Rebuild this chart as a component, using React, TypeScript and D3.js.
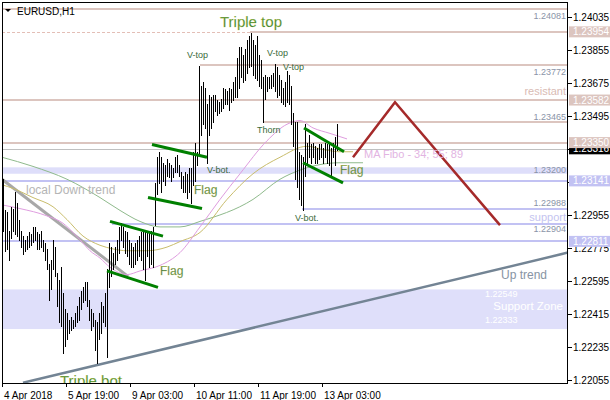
import React from 'react';
import * as d3 from 'd3';

// ---- OHLC bars (H1), highs and lows ----
const highs = [
  1.2315, 1.2298, 1.2297, 1.2287, 1.2300, 1.2299, 1.2308, 1.2302, 1.2293, 1.2287,
  1.2284, 1.2282, 1.2284, 1.2286, 1.2285, 1.2289, 1.2289, 1.2286, 1.2285, 1.2287,
  1.2282, 1.2280, 1.2277, 1.2269, 1.2271, 1.2282, 1.2278, 1.2264, 1.2260, 1.2267,
  1.2253, 1.2244, 1.2242, 1.2238, 1.2240, 1.2238, 1.2242, 1.2246, 1.2251, 1.2254,
  1.2256, 1.2259, 1.2259, 1.2249, 1.2244, 1.2242, 1.2238, 1.2237, 1.2242, 1.2248,
  1.2246, 1.2253, 1.2266, 1.2280, 1.2278, 1.2275, 1.2278, 1.2282, 1.2289, 1.2291,
  1.2289, 1.2287, 1.2286, 1.2282, 1.2280, 1.2278, 1.2280, 1.2282, 1.2284, 1.2286,
  1.2287, 1.2286, 1.2287, 1.2286, 1.2287, 1.2289, 1.2313, 1.2327, 1.2330, 1.2327,
  1.2324, 1.2323, 1.2326, 1.2324, 1.2323, 1.2321, 1.2327, 1.2328, 1.2323, 1.2319,
  1.2317, 1.2319, 1.2318, 1.2321, 1.2321, 1.2330, 1.2335, 1.2330, 1.2377, 1.2366,
  1.2368, 1.2365, 1.2356, 1.2361, 1.2360, 1.2361, 1.2361, 1.2358, 1.2357, 1.2359,
  1.2365, 1.2364, 1.2363, 1.2365, 1.2364, 1.2368, 1.2371, 1.2381, 1.2387, 1.2387,
  1.2383, 1.2386, 1.2391, 1.2393, 1.2395, 1.2391, 1.2388, 1.2393, 1.2383, 1.2380,
  1.2371, 1.2372, 1.2371, 1.2371, 1.2372, 1.2373, 1.2378, 1.2376, 1.2372, 1.2369,
  1.2365, 1.2368, 1.2374, 1.2372, 1.2366, 1.2351, 1.2346, 1.2346, 1.2330, 1.2328,
  1.2327, 1.2345, 1.2335, 1.2339, 1.2334, 1.2335, 1.2333, 1.2332, 1.2334, 1.2334,
  1.2332, 1.2335, 1.2334, 1.2334, 1.2332, 1.2335, 1.2338, 1.2345,
];
const lows = [
  1.2287, 1.2276, 1.2277, 1.2271, 1.2283, 1.2287, 1.2285, 1.2284, 1.2282, 1.2278,
  1.2274, 1.2276, 1.2277, 1.2278, 1.2279, 1.2281, 1.2282, 1.2277, 1.2277, 1.2278,
  1.2276, 1.2271, 1.2266, 1.2249, 1.2255, 1.2266, 1.2262, 1.2246, 1.2237, 1.2235,
  1.2220, 1.2224, 1.2228, 1.2231, 1.2233, 1.2234, 1.2235, 1.2237, 1.2238, 1.2244,
  1.2248, 1.2249, 1.2246, 1.2238, 1.2233, 1.2235, 1.2222, 1.2215, 1.2228, 1.2231,
  1.2237, 1.2235, 1.2218, 1.2256, 1.2262, 1.2266, 1.2269, 1.2271, 1.2275, 1.2282,
  1.2278, 1.2275, 1.2273, 1.2269, 1.2267, 1.2267, 1.2269, 1.2271, 1.2273, 1.2271,
  1.2266, 1.2260, 1.2273, 1.2267, 1.2269, 1.2267, 1.2290, 1.2307, 1.2313, 1.2308,
  1.2314, 1.2312, 1.2317, 1.2316, 1.2314, 1.2316, 1.2319, 1.2319, 1.2317, 1.2310,
  1.2308, 1.2308, 1.2305, 1.2308, 1.2302, 1.2312, 1.2314, 1.2323, 1.2329, 1.2339,
  1.2345, 1.2343, 1.2324, 1.2339, 1.2343, 1.2346, 1.2352, 1.2350, 1.2351, 1.2352,
  1.2354, 1.2356, 1.2356, 1.2353, 1.2357, 1.2358, 1.2360, 1.2360, 1.2365, 1.2371,
  1.2368, 1.2369, 1.2373, 1.2376, 1.2377, 1.2372, 1.2370, 1.2369, 1.2366, 1.2365,
  1.2346, 1.2359, 1.2363, 1.2365, 1.2365, 1.2366, 1.2363, 1.2360, 1.2361, 1.2357,
  1.2356, 1.2355, 1.2357, 1.2356, 1.2345, 1.2333, 1.2315, 1.2311, 1.2304, 1.2301,
  1.2298, 1.2317, 1.2323, 1.2327, 1.2324, 1.2327, 1.2324, 1.2324, 1.2326, 1.2327,
  1.2324, 1.2327, 1.2324, 1.2323, 1.2317, 1.2327, 1.2323, 1.2331,
];

// ---- axes ----
const priceTicks = [1.24035, 1.23855, 1.23675, 1.23495, 1.23315, 1.23135, 1.22955, 1.22775, 1.22595, 1.22415, 1.22235, 1.22055];
const timeTickIdx = [0, 32, 64, 96, 128, 160];
const timeTickLabels = ['4 Apr 2018', '5 Apr 19:00', '9 Apr 03:00', '10 Apr 11:00', '11 Apr 19:00', '13 Apr 03:00'];

// ---- moving averages (bar index, price) ----
const ma34: [number, number][] = [
  [-0.5, 1.2301], [8.5, 1.2299], [22, 1.2295], [30, 1.2291], [35, 1.2286], [38.5, 1.2282], [43.5, 1.2276],
  [48.5, 1.2272], [53.5, 1.2267], [62, 1.2263], [68.5, 1.2265], [78.5, 1.2268], [88.5, 1.2275], [98.5, 1.2289],
  [108.5, 1.2304], [118.5, 1.2318], [132, 1.2336], [142, 1.2345], [148.5, 1.2347], [155, 1.2343], [163.5, 1.2340], [172, 1.2337],
];
const ma55: [number, number][] = [
  [-0.5, 1.2312], [5, 1.2310], [15, 1.2305], [25, 1.2300], [32, 1.2293], [40, 1.2284], [48.5, 1.2279], [55, 1.2277],
  [62, 1.2276], [72, 1.2276], [82, 1.2278], [88.5, 1.2281], [98.5, 1.2286], [112, 1.2304], [125, 1.2318],
  [138.5, 1.2327], [152, 1.2333], [161, 1.2331], [168.5, 1.2330], [175, 1.2330],
];
const ma89: [number, number][] = [
  [-0.5, 1.2327], [15, 1.2322], [32, 1.2315], [48.5, 1.2305], [58.5, 1.2298], [68.5, 1.2292], [78.5, 1.2289],
  [88.5, 1.2289], [98.5, 1.2292], [125, 1.2304], [138.5, 1.2315], [148.5, 1.2320], [158.5, 1.2323], [168.5, 1.2324], [180, 1.2324],
];

// ---- drawn objects (bar index, price) ----
const upTrend: [number, number][] = [[10, 1.2204], [282.5, 1.2275]];
const downTrend: [number, number][] = [[-0.5, 1.2315], [62.5, 1.2262]];
const flagLines: [number, number][][] = [
  [[53.5, 1.2292], [80, 1.2284]], [[52, 1.2265], [77.5, 1.2256]],
  [[74.5, 1.2334], [102, 1.2327]], [[72.5, 1.2305], [99.5, 1.2299]],
  [[150.5, 1.2343], [170.5, 1.2330]], [[150, 1.2324], [170, 1.2313]],
];
const zigzag: [number, number][] = [[175, 1.2327], [196, 1.2357], [248.5, 1.2290]];

const resistLevels = [1.24081, 1.23954, 1.23772, 1.23582, 1.23465, 1.23350];
const resistStart = [null, 123.5, 98.5, null, 130, null];
const supportLevels = [1.23141, 1.22988, 1.22904, 1.22811];
const supportStart = [null, 149.5, 54.5, null];
const currentPrice = 1.23316;
const thinBand = [1.23215, 1.23180];
const supportZone = [1.22549, 1.22333];

const patternLabels = ['Triple top', 'Triple bot', 'V-top', 'V-top', 'V-top', 'V-bot.', 'Thorn', 'V-bot.', 'Flag', 'Flag', 'Flag'];
const patternIdx = [108.5, 28.5, 92, 132, 140, 102, 127, 146, 78.5, 95.5, 168.5];
const patternPrice = [1.2401, 1.2205, 1.2383, 1.2384, 1.2376, 1.2320, 1.2342, 1.2294, 1.2265, 1.2309, 1.2320];

const BROWN = '#dcc5bf';
const BLUE = '#c2c2f3';
const FONT = "'Liberation Sans', Arial, sans-serif";

export default function App() {
  const L = 2, R = 568, T = 2, B = 383;
  const x = d3.scaleLinear().domain([0, 167]).range([3, 337]);
  const y = d3.scaleLinear().domain([1.22055, 1.24035]).range([380, 17]);
  const line = d3.line<[number, number]>().x(d => x(d[0])).y(d => y(d[1]));
  const smooth = d3.line<[number, number]>().x(d => x(d[0])).y(d => y(d[1])).curve(d3.curveMonotoneX);
  const ry = (p: number) => Math.round(y(p));

  const boxes = [
    { p: currentPrice, fill: '#000' },
    { p: 1.23954, fill: BROWN },
    { p: 1.23582, fill: BROWN },
    { p: 1.23350, fill: BROWN },
    { p: 1.23141, fill: BLUE },
    { p: 1.22811, fill: BLUE },
  ];
  // tick labels fully hidden under a price box are not drawn
  const hidden = (p: number) => boxes.some(b => Math.abs(y(b.p) - y(p)) < 5);

  const greyTxt = '#8a94a8';

  return (
    <svg width={610} height={400} style={{ position: 'absolute', left: 0, top: 0, background: '#fff', fontFamily: FONT }}>
      <defs>
        <clipPath id="plot"><rect x={L} y={T} width={R - L} height={B - T} /></clipPath>
      </defs>
      <rect x={0} y={0} width={610} height={400} fill="#fff" />
      <g clipPath="url(#plot)">
        {/* bands */}
        <rect x={L} width={R - L} y={y(supportZone[0])} height={y(supportZone[1]) - y(supportZone[0])} fill="#dfdffa" />
        <rect x={L} width={R - L} y={y(thinBand[0])} height={y(thinBand[1]) - y(thinBand[0])} fill="#dedefa" />
        {/* resistance lines */}
        <line x1={L} x2={x(resistStart[1] as number)} y1={ry(resistLevels[1]) + 0.5} y2={ry(resistLevels[1]) + 0.5} stroke="#e3beb6" strokeDasharray="3,2" />
        {resistLevels.map((p, i) => (
          <line key={'r' + i} x1={resistStart[i] == null ? L : x(resistStart[i] as number)} x2={R} y1={ry(p)} y2={ry(p)} stroke={BROWN} strokeWidth={2} />
        ))}
        <line x1={L} x2={R} y1={ry(currentPrice) + 0.5} y2={ry(currentPrice) + 0.5} stroke="#c0c0c0" strokeWidth={1} />
        {supportLevels.map((p, i) => (
          <line key={'s' + i} x1={supportStart[i] == null ? L : x(supportStart[i] as number)} x2={R} y1={ry(p)} y2={ry(p)} stroke={BLUE} strokeWidth={2} />
        ))}
        {/* trend lines */}
        <path d={line(upTrend) || ''} stroke="#738494" strokeWidth={2.5} fill="none" />
        <path d={line(downTrend) || ''} stroke="#a8a8a8" strokeWidth={3} fill="none" />
        {/* moving averages */}
        <path d={smooth(ma89) || ''} stroke="#8fba8c" strokeWidth={1} fill="none" />
        <path d={smooth(ma55) || ''} stroke="#c9bd6c" strokeWidth={1} fill="none" />
        <path d={smooth(ma34) || ''} stroke="#df9ddf" strokeWidth={1} fill="none" />
        {/* bars */}
        {highs.map((h, i) => {
          const xx = Math.round(x(i)) + 0.5;
          return <line key={'b' + i} x1={xx} x2={xx} y1={ry(h)} y2={ry(lows[i]) + 1} stroke="#000" strokeWidth={1} shapeRendering="crispEdges" />;
        })}
        {/* flags */}
        {flagLines.map((f, i) => (
          <path key={'f' + i} d={line(f) || ''} stroke="#008000" strokeWidth={3} fill="none" />
        ))}
        {/* projection */}
        <path d={line(zigzag) || ''} stroke="#a52a2a" strokeWidth={2.5} fill="none" />

        {/* level texts */}
        <g fontSize={9} fill={greyTxt} textAnchor="end" dominantBaseline="central">
          <text x={566} y={y(1.24081) + 7.5}>1.24081</text>
          <text x={566} y={y(1.23772) + 7}>1.23772</text>
          <text x={566} y={y(1.23465) - 5}>1.23465</text>
          <text x={566} y={y(1.23200)}>1.23200</text>
          <text x={566} y={y(1.22988) - 6}>1.22988</text>
          <text x={566} y={y(1.22904) + 5}>1.22904</text>
        </g>
        <text x={566} y={y(1.23582) - 9} fontSize={11} fill="#d9bbb4" textAnchor="end" dominantBaseline="central">resistant</text>
        <text x={566} y={y(1.22904) - 7} fontSize={11} fill="#c4c4f0" textAnchor="end" dominantBaseline="central">support</text>
        <text x={485} y={y(supportZone[0]) + 5} fontSize={9} fill="#fff" dominantBaseline="central">1.22549</text>
        <text x={563} y={y(supportZone[0]) + 17} fontSize={11.5} fill="#fff" textAnchor="end" dominantBaseline="central">Support Zone</text>
        <text x={485} y={y(supportZone[1]) - 9} fontSize={9} fill="#fff" dominantBaseline="central">1.22333</text>
        <text x={x(249)} y={y(1.2263)} fontSize={12} fill="#8794a3" dominantBaseline="central">Up trend</text>
        <text x={x(11.5)} y={y(1.2309)} fontSize={12} fill="#b5b5b5" dominantBaseline="central">local Down trend</text>
        <text x={x(180.5)} y={y(1.2329)} fontSize={11} fill="#e2b4e2" dominantBaseline="central">MA Fibo - 34; 55; 89</text>

        {/* pattern labels */}
        {patternLabels.map((t, i) => {
          const big = t.startsWith('Triple');
          const flag = t === 'Flag';
          return (
            <text key={'p' + i} x={x(patternIdx[i])} y={y(patternPrice[i])} dominantBaseline="central"
              fontSize={big ? 15 : flag ? 12 : 9} fill={big ? '#2f7d2f' : flag ? '#2a6b45' : '#3a6b3a'}
              stroke={big || flag ? '#e8e070' : 'none'} strokeWidth={0.25}>{t}</text>
          );
        })}

        {/* header */}
        <path d="M5,9 L11,9 L8,12 Z" fill="#000" />
        <text x={17} y={11} fontSize={10} fill="#000" dominantBaseline="central">EURUSD,H1</text>
      </g>

      {/* frame */}
      <rect x={L + 0.5} y={T + 0.5} width={R - L - 1} height={B - T} fill="none" stroke="#000" strokeWidth={1} />

      {/* right price axis */}
      <g fontSize={10} fill="#000">
        {priceTicks.map((p, i) => (
          <g key={'t' + i}>
            <line x1={R} x2={R + 4} y1={ry(p) + 0.5} y2={ry(p) + 0.5} stroke="#000" />
            {!hidden(p) && <text x={R + 5} y={y(p)} dominantBaseline="central">{p.toFixed(5)}</text>}
          </g>
        ))}
      </g>
      {boxes.map((b, i) => (
        <g key={'bx' + i}>
          <rect x={R + 1} y={y(b.p) - 5.5} width={610 - R - 1} height={11} fill={b.fill} />
          <text x={R + 5} y={y(b.p)} fontSize={10} fill="#fff" dominantBaseline="central">{b.p.toFixed(5)}</text>
        </g>
      ))}

      {/* bottom time axis */}
      <g fontSize={10} fill="#000">
        {timeTickIdx.map((ti, i) => {
          const xx = Math.round(x(ti)) - 0.5;
          return (
            <g key={'x' + i}>
              <line x1={xx} x2={xx} y1={B} y2={B + 4} stroke="#000" />
              <text x={xx + 1.5} y={395} dominantBaseline="central">{timeTickLabels[i]}</text>
            </g>
          );
        })}
      </g>
    </svg>
  );
}
